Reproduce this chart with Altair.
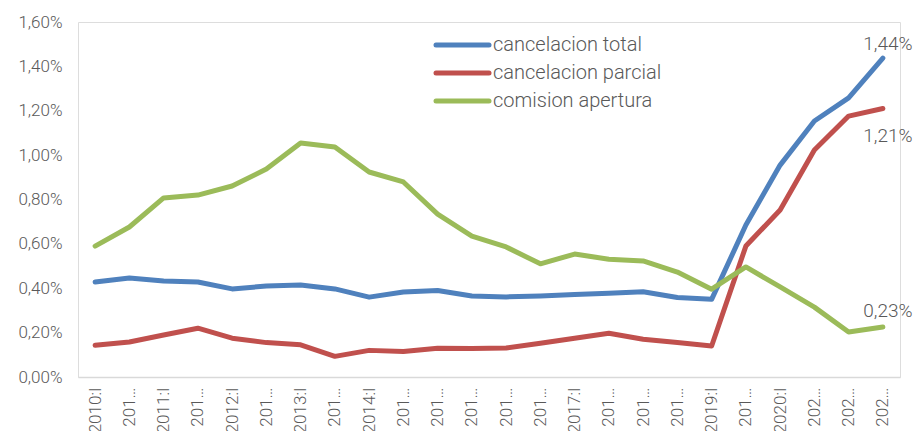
import altair as alt
import pandas as pd

periods = ["2010:I", "2010:II", "2011:I", "2011:II", "2012:I", "2012:II",
           "2013:I", "2013:II", "2014:I", "2014:II", "2015:I", "2015:II",
           "2016:I", "2016:II", "2017:I", "2017:II", "2018:I", "2018:II",
           "2019:I", "2019:II", "2020:I", "2020:II", "2021:I", "2021:II"]
tick_labels = ["2010:I", "201…", "2011:I", "201…", "2012:I", "201…",
               "2013:I", "201…", "2014:I", "201…", "201…", "201…",
               "201…", "201…", "2017:I", "201…", "201…", "201…",
               "2019:I", "201…", "2020:I", "202…", "202…", "202…"]

series_names = ["cancelacion total", "cancelacion parcial", "comision apertura"]
series_colors = ["#4F81BD", "#C0504D", "#9BBB59"]

cancelacion_total = [0.428, 0.446, 0.433, 0.428, 0.397, 0.410, 0.415, 0.397,
                     0.360, 0.383, 0.390, 0.365, 0.361, 0.365, 0.372, 0.378,
                     0.384, 0.358, 0.350, 0.685, 0.955, 1.154, 1.258, 1.437]
cancelacion_parcial = [0.143, 0.158, 0.189, 0.220, 0.175, 0.155, 0.145, 0.093,
                       0.120, 0.115, 0.130, 0.128, 0.131, 0.152, 0.175, 0.197,
                       0.170, 0.155, 0.140, 0.590, 0.753, 1.023, 1.176, 1.210]
comision_apertura = [0.590, 0.676, 0.807, 0.820, 0.861, 0.937, 1.055, 1.037,
                     0.924, 0.879, 0.734, 0.635, 0.586, 0.510, 0.554, 0.531,
                     0.523, 0.473, 0.396, 0.496, 0.406, 0.315, 0.203, 0.225]

end_labels = ["1,44%", "1,21%", "0,23%"]

rows = []
for name, vals in zip(series_names, [cancelacion_total, cancelacion_parcial, comision_apertura]):
    for i, (p, v) in enumerate(zip(periods, vals)):
        rows.append({"periodo": p, "serie": name, "valor": v, "orden": i})
df = pd.DataFrame(rows)

end_df = pd.DataFrame({
    "periodo": [periods[-1]] * 3,
    "serie": series_names,
    "valor": [cancelacion_total[-1], cancelacion_parcial[-1], comision_apertura[-1]],
    "texto": end_labels,
})
legend_df = pd.DataFrame({"serie": series_names, "fila": list(range(len(series_names)))})

FONT = "Roboto"
GREY = "#595959"
W = 300

labels_js = "[" + ",".join("'" + t + "'" for t in tick_labels) + "]"
periods_js = "[" + ",".join("'" + t + "'" for t in periods) + "]"

color_scale = alt.Scale(domain=series_names, range=series_colors)
x_scale = alt.Scale(domain=periods)
y_scale = alt.Scale(domain=[0, 1.6], nice=False)

x_enc = alt.X("periodo:O", sort=periods, title=None, scale=x_scale,
              axis=alt.Axis(labelAngle=-90, labelFontSize=17, labelColor=GREY,
                            labelFont=FONT, labelFontWeight=W, labelPadding=10, ticks=False,
                            domainColor="#D9D9D9", domainWidth=1.5,
                            labelExpr=f"{labels_js}[indexof({periods_js}, datum.value)]"))
y_enc = alt.Y("valor:Q", title=None, scale=y_scale,
              axis=alt.Axis(values=[0, 0.2, 0.4, 0.6, 0.8, 1.0, 1.2, 1.4, 1.6],
                            labelExpr="replace(format(datum.value, '.2f'), '.', ',') + '%'",
                            labelFontSize=17, labelColor=GREY, labelFont=FONT,
                            labelFontWeight=W,
                            labelPadding=16, ticks=False, domain=False, grid=False))

lines = alt.Chart(df).mark_line(strokeWidth=5, strokeCap="round", strokeJoin="round").encode(
    x=x_enc,
    y=y_enc,
    color=alt.Color("serie:N", scale=color_scale, legend=None),
    order="orden:Q",
)

offsets = [-14, 27, -16]
texts = []
for name, dy in zip(series_names, offsets):
    texts.append(
        alt.Chart(end_df).transform_filter(alt.datum.serie == name)
        .mark_text(dx=5, dy=dy, fontSize=19, font=FONT, fontWeight=W, color=GREY,
                   align="center", baseline="middle")
        .encode(x=alt.X("periodo:O", sort=periods, scale=x_scale),
                y=alt.Y("valor:Q", scale=y_scale),
                text="texto:N")
    )

data_layer = alt.layer(lines, *texts)

leg_y = alt.Y("fila:Q", scale=alt.Scale(domain=[0, 2], range=[23, 79], nice=False, zero=False), axis=None)
legend_rules = alt.Chart(legend_df).mark_rule(strokeWidth=5, strokeCap="round").encode(
    x=alt.value(358), x2=alt.value(411), y=leg_y,
    color=alt.Color("serie:N", scale=color_scale, legend=None),
)
legend_text = alt.Chart(legend_df).mark_text(align="left", baseline="middle", fontSize=20,
                                             font=FONT, fontWeight=W, color=GREY).encode(
    x=alt.value(415), y=leg_y, text="serie:N",
)
legend_layer = alt.layer(legend_rules, legend_text)

chart = alt.layer(data_layer, legend_layer).resolve_scale(y="independent").properties(
    width=822, height=355,
    autosize=alt.AutoSizeParams(type="none"),
    padding={"left": 70, "top": 14, "right": 14, "bottom": 54},
).configure_view(stroke=None).configure(font=FONT)

chart.save("out.html", embed_options={"renderer": "svg", "actions": False})
